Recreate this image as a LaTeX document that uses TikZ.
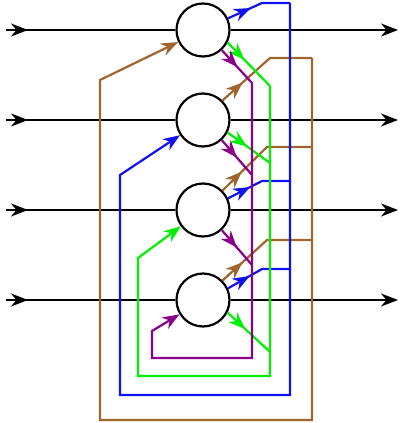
\documentclass[tikz,border=0pt]{standalone}
\usepackage{xcolor}
\definecolor{hopbrown}{HTML}{A0642D}
\definecolor{hopblue}{HTML}{1010F0}
\definecolor{hopgreen}{HTML}{00F000}
\definecolor{hoppurple}{HTML}{8A008A}
\usepackage{tikz}
\usetikzlibrary{arrows.meta,positioning,decorations.markings}

\begin{document}
\begin{tikzpicture}[
        x=1pt, y=-1pt,
        node distance=34.8pt,
        neuron/.style={circle, draw=black, fill=white, line width=2.2pt, minimum size=53pt, inner sep=0pt},
        wire/.style={line width=2.2pt, black},
        link/.style={line width=2.2pt},
        arrowat/.style={postaction={decorate}, decoration={markings, mark=at position #1 with {\arrow{Stealth[length=17pt,width=13pt,inset=5.5pt]}}}},
        >={Stealth[length=17pt,width=13pt,inset=5.5pt]}
    ]
        \useasboundingbox (0,0) rectangle (406,423);

        % the four neurons
        \node[neuron] (n1) at (203,30) {};
        \node[neuron, below=of n1] (n2) {};
        \node[neuron, below=of n2] (n3) {};
        \node[neuron, below=of n3] (n4) {};

        % inputs and outputs
        \coordinate (in1) at (6,30);
        \coordinate (out1) at (398,30);
        \coordinate (in2) at (in1 |- n2);  \coordinate (out2) at (out1 |- n2);
        \coordinate (in3) at (in1 |- n3);  \coordinate (out3) at (out1 |- n3);
        \coordinate (in4) at (in1 |- n4);  \coordinate (out4) at (out1 |- n4);
        \foreach \i in {1,2,3,4} {
            \draw[wire, arrowat=22pt] (in\i) -- (n\i);
            \draw[wire, ->] (n\i) -- (out\i);
        }

        % feedback into n1 (brown)
        \draw[link, hopbrown, arrowat=27pt] (n2.45) -- (270,58) -- (312,58);
        \draw[link, hopbrown, arrowat=27pt] (n3.45) -- (267,147) -- (312,147);
        \draw[link, hopbrown, arrowat=27pt] (n4.45) -- (267,240) -- (312,240);
        \draw[link, hopbrown, ->] (312,58) -- (312,420) -- (100,420) -- (100,80) -- (n1);

        % feedback into n2 (blue)
        \draw[link, hopblue, arrowat=25pt] (n1.25) -- (262,3) -- (290,3);
        \draw[link, hopblue, arrowat=25pt] (n3.25) -- (262,181) -- (290,181);
        \draw[link, hopblue, arrowat=25pt] (n4.25) -- (262,269) -- (290,269);
        \draw[link, hopblue, ->] (290,3) -- (290,395) -- (120,395) -- (120,175) -- (n2);

        % feedback into n3 (green)
        \draw[link, hopgreen, arrowat=24pt] (n1.-27) -- (270,86);
        \draw[link, hopgreen, arrowat=24pt] (n2.-27) -- (270,163);
        \draw[link, hopgreen, arrowat=24pt] (n4.-27) -- (270,352);
        \draw[link, hopgreen, ->] (270,86) -- (270,376) -- (138,376) -- (138,258) -- (n3);

        % feedback into n4 (purple)
        \draw[link, hoppurple, arrowat=23pt] (n1.-47) -- (252,83);
        \draw[link, hoppurple, arrowat=23pt] (n2.-47) -- (252,175);
        \draw[link, hoppurple, arrowat=23pt] (n3.-47) -- (252,265);
        \draw[link, hoppurple, ->] (252,83) -- (252,358) -- (152,358) -- (152,331) -- (n4);
    \end{tikzpicture}
\end{document}
